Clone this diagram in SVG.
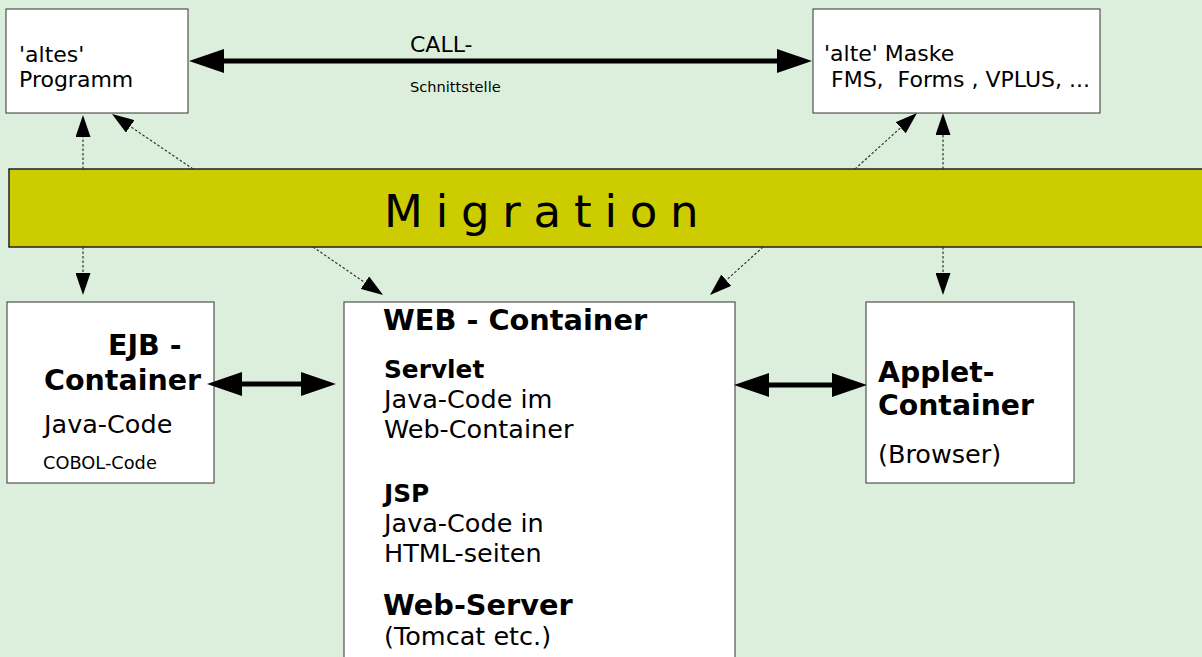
<svg xmlns="http://www.w3.org/2000/svg" width="1202" height="657" viewBox="0 0 1202 657">
  <style>
    text { font-family: "DejaVu Sans", "Liberation Sans", sans-serif; fill: #000; }
    .box { fill: #fff; stroke: #333; stroke-width: 1; }
    .band { fill: #cccc00; stroke: #222; stroke-width: 1.5; }
    .thick { stroke: #000; stroke-width: 5; fill: none; }
    .dot { stroke: #333; stroke-width: 1.2; stroke-dasharray: 2.5 2; fill: none; }
    .b { font-weight: bold; }
    .pre { white-space: pre; }
  </style>
  <defs>
    <!-- heavy head for the solid interface arrows; line ends at the head base -->
    <marker id="bigHead" markerUnits="userSpaceOnUse" viewBox="0 0 35 24" refX="0" refY="12" markerWidth="35" markerHeight="24" orient="auto-start-reverse">
      <path d="M0,0 L35,12 L0,24 z" fill="#000"/>
    </marker>
    <!-- small head for the dotted migration arrows -->
    <marker id="smallHead" markerUnits="userSpaceOnUse" viewBox="0 0 22 15" refX="0" refY="7.5" markerWidth="22" markerHeight="15" orient="auto">
      <path d="M0,0 L22,7.5 L0,15 z" fill="#000"/>
    </marker>
  </defs>

  <rect width="1202" height="657" fill="#dcefdc"/>

  <g id="altes-programm">
    <rect class="box" x="6" y="9" width="182" height="104"/>
    <text x="19" y="62" font-size="22">'altes'</text>
    <text x="19" y="87" font-size="22">Programm</text>
  </g>

  <g id="alte-maske">
    <rect class="box" x="813" y="9" width="287" height="104"/>
    <text x="824" y="61" font-size="22">'alte' Maske</text>
    <text class="pre" x="831" y="87" font-size="22">FMS,  Forms , VPLUS, ...</text>
  </g>

  <g id="migration">
    <rect class="band" x="9" y="169" width="1200" height="78"/>
    <text x="384" y="227" font-size="45" letter-spacing="12.8">Migration</text>
  </g>

  <g id="ejb-container">
    <rect class="box" x="7" y="302" width="207" height="181"/>
    <text class="b" x="108" y="355" font-size="28.5">EJB -</text>
    <text class="b" x="44" y="390" font-size="28.5">Container</text>
    <text x="44" y="433" font-size="25.5">Java-Code</text>
    <text x="43" y="469" font-size="17.8">COBOL-Code</text>
  </g>

  <g id="web-container">
    <rect class="box" x="344" y="302" width="391" height="400"/>
    <text class="b" x="383" y="330" font-size="28.8">WEB - Container</text>
    <text class="b" x="384" y="378" font-size="24.8">Servlet</text>
    <text x="384" y="408" font-size="25.5">Java-Code im</text>
    <text x="384" y="438" font-size="25.5">Web-Container</text>
    <text class="b" x="384" y="502" font-size="24.8">JSP</text>
    <text x="384" y="532" font-size="25.5">Java-Code in</text>
    <text x="384" y="562" font-size="25.5">HTML-seiten</text>
    <text class="b" x="383" y="615" font-size="28.8">Web-Server</text>
    <text x="384" y="645" font-size="25.5">(Tomcat etc.)</text>
  </g>

  <g id="applet-container">
    <rect class="box" x="866" y="302" width="208" height="181"/>
    <text class="b" x="878" y="382" font-size="28.3">Applet-</text>
    <text class="b" x="878" y="415" font-size="28.3">Container</text>
    <text x="878" y="463" font-size="25.5">(Browser)</text>
  </g>

  <g id="connectors">
    <!-- CALL interface between old program and old screen -->
    <line class="thick" x1="224" y1="61" x2="777" y2="61" marker-start="url(#bigHead)" marker-end="url(#bigHead)"/>
    <text x="410" y="52" font-size="22">CALL-</text>
    <text x="410" y="92" font-size="14.6">Schnittstelle</text>

    <!-- container interfaces -->
    <line class="thick" x1="242" y1="384" x2="301" y2="384" marker-start="url(#bigHead)" marker-end="url(#bigHead)"/>
    <line class="thick" x1="769" y1="385" x2="832" y2="385" marker-start="url(#bigHead)" marker-end="url(#bigHead)"/>

    <!-- migration paths -->
    <line class="dot" x1="83" y1="169" x2="83" y2="137" marker-end="url(#smallHead)"/>
    <line class="dot" x1="193" y1="169" x2="130.2" y2="126.4" marker-end="url(#smallHead)"/>
    <line class="dot" x1="855" y1="169" x2="900.7" y2="127.7" marker-end="url(#smallHead)"/>
    <line class="dot" x1="943" y1="169" x2="943" y2="135" marker-end="url(#smallHead)"/>
    <line class="dot" x1="83" y1="247" x2="83" y2="273" marker-end="url(#smallHead)"/>
    <line class="dot" x1="313" y1="247" x2="364.9" y2="282.6" marker-end="url(#smallHead)"/>
    <line class="dot" x1="763" y1="247" x2="726.3" y2="280.2" marker-end="url(#smallHead)"/>
    <line class="dot" x1="943" y1="247" x2="943" y2="273" marker-end="url(#smallHead)"/>
  </g>
</svg>
